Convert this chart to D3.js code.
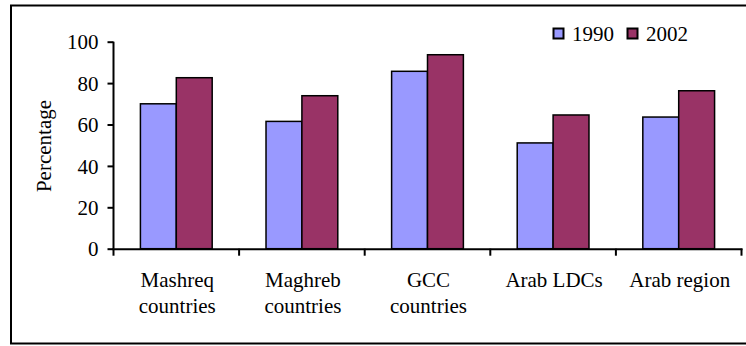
<!DOCTYPE html>
<html>
<head>
<meta charset="utf-8">
<script src="https://cdn.jsdelivr.net/npm/d3@7"></script>
<style>
  html, body { margin: 0; padding: 0; background: #fff; }
  svg { display: block; }
  text { font-family: "Liberation Serif", "Times New Roman", serif; fill: #000; }
</style>
</head>
<body>
<script>
// Share of population (%) by region, 1990 vs 2002
const categories = [["Mashreq", "countries"], ["Maghreb", "countries"], ["GCC", "countries"], ["Arab LDCs"], ["Arab region"]];
const seriesNames = ["1990", "2002"];
const values1990 = [70, 61.5, 85.7, 51.1, 63.6];
const values2002 = [82.6, 73.9, 93.7, 64.6, 76.3];
const yTicks = [0, 20, 40, 60, 80, 100];
const colors = ["#9999FF", "#993366"];

const W = 746, H = 346;
const svg = d3.select("body").append("svg").attr("width", W).attr("height", H);

// outer chart frame
svg.append("rect")
  .attr("x", 11).attr("y", 5.5).attr("width", 760).attr("height", 338)
  .attr("fill", "none").attr("stroke", "#000").attr("stroke-width", 2);

const plot = { left: 113.5, right: 741.5, top: 41.7, bottom: 248.7 };

const catIdx = categories.map((d, i) => i);
const x = d3.scaleBand().domain(catIdx).range([plot.left, plot.right]).paddingInner(0).paddingOuter(0);
const bw = x.bandwidth();
const gap = bw * 1.5 / 3.5;
const xs = d3.scaleBand().domain(seriesNames).range([gap / 2, bw - gap / 2]).padding(0);
const y = d3.scaleLinear().domain([0, 100]).range([plot.bottom, plot.top]);

// bars
const rows = catIdx.map(i => ({ i, vals: [values1990[i], values2002[i]] }));
const g = svg.append("g");
rows.forEach(r => {
  r.vals.forEach((v, s) => {
    g.append("rect")
      .attr("x", x(r.i) + xs(seriesNames[s]))
      .attr("y", y(v))
      .attr("width", xs.bandwidth())
      .attr("height", y(0) - y(v))
      .attr("fill", colors[s])
      .attr("stroke", "#000")
      .attr("stroke-width", 1.5);
  });
});

// y axis
const yAxis = d3.axisLeft(y).tickValues(yTicks).tickSize(6).tickPadding(9).tickFormat(d3.format("d"));
const ya = svg.append("g").attr("transform", `translate(${plot.left},0)`).call(yAxis);
ya.select(".domain").attr("stroke-width", 2).attr("d", `M0,${plot.top}V${plot.bottom}`);
ya.selectAll(".tick line").attr("stroke-width", 2);
ya.selectAll(".tick text").attr("font-size", 21).attr("font-family", "Liberation Serif").attr("dy", "0.34em");

// x axis with boundary ticks
svg.append("line")
  .attr("x1", plot.left - 1).attr("x2", plot.right + 1)
  .attr("y1", plot.bottom + 0.5).attr("y2", plot.bottom + 0.5)
  .attr("stroke", "#000").attr("stroke-width", 2);
const bounds = catIdx.map(i => x(i)).concat([plot.right]);
svg.selectAll(".xtick").data(bounds).enter().append("line")
  .attr("x1", d => d).attr("x2", d => d)
  .attr("y1", plot.bottom).attr("y2", plot.bottom + 7)
  .attr("stroke", "#000").attr("stroke-width", 2);

// category labels
categories.forEach((lines, i) => {
  const t = svg.append("text")
    .attr("x", x(i) + bw / 2 + 1)
    .attr("y", 287)
    .attr("text-anchor", "middle")
    .attr("font-size", 21);
  lines.forEach((ln, k) => {
    t.append("tspan").attr("x", x(i) + bw / 2 + 1).attr("dy", k === 0 ? 0 : 26).text(ln);
  });
});

// y axis title
svg.append("text")
  .attr("transform", `translate(51,146) rotate(-90)`)
  .attr("text-anchor", "middle")
  .attr("font-size", 21)
  .text("Percentage");

// legend
const legend = [{ name: seriesNames[0], x: 553 }, { name: seriesNames[1], x: 627 }];
legend.forEach((l, s) => {
  svg.append("rect")
    .attr("x", l.x + 0.5).attr("y", 28.5).attr("width", 10).attr("height", 10)
    .attr("fill", colors[s]).attr("stroke", "#000").attr("stroke-width", 2);
  svg.append("text")
    .attr("x", l.x + 19).attr("y", 41)
    .attr("font-size", 21)
    .text(l.name);
});
</script>
</body>
</html>
